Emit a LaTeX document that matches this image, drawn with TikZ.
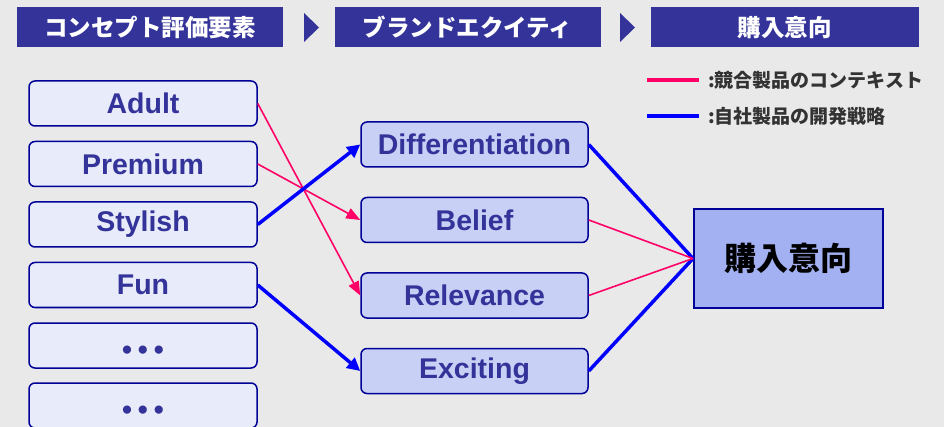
\documentclass[tikz,border=0pt]{standalone}
\usepackage{fontspec}
\setmainfont{Liberation Sans}
\newfontfamily\jp{Noto Sans CJK JP}
\usetikzlibrary{arrows.meta}
\definecolor{bg}{HTML}{E9E9E9}
\definecolor{hdr}{HTML}{333399}
\definecolor{bord}{HTML}{000099}
\definecolor{lfill}{HTML}{E8ECFA}
\definecolor{mfill}{HTML}{C8D0F5}
\definecolor{rfill}{HTML}{A3B0F2}
\definecolor{pinkc}{HTML}{FF0066}
\definecolor{bluec}{HTML}{0000FF}
\definecolor{txtc}{HTML}{333399}
\definecolor{legc}{HTML}{333333}
\begin{document}
\begin{tikzpicture}[x=1pt,y=-1pt,
 hbox/.style={fill=hdr, minimum width=266pt, minimum height=40pt, inner sep=0pt, text=white, font=\jp\bfseries\fontsize{23.5}{25}\selectfont},
 htri/.style={fill=hdr},
 lbox/.style={draw=bord, line width=1.5pt, fill=lfill, rounded corners=6pt, minimum width=228pt, minimum height=45pt, inner sep=0pt, text=txtc, font=\bfseries\fontsize{28.5}{30}\selectfont},
 dotbox/.style={lbox, text height=27pt, text depth=0pt},
 mbox/.style={lbox, fill=mfill, minimum width=227pt},
 rbox/.style={draw=bord, line width=2pt, fill=rfill, minimum width=189pt, minimum height=99pt, inner sep=0pt, font=\jp\bfseries\fontsize{32}{34}\selectfont},
 legtext/.style={anchor=west, inner sep=0pt, text=legc, font=\jp\bfseries\fontsize{19}{21}\selectfont},
 pk/.style={draw=pinkc, line width=1.6pt},
 bl/.style={draw=bluec, line width=3.5pt},
 pkarr/.style={pk, -{Triangle[length=14pt,width=11pt]}},
 blarr/.style={bl, -{Triangle[length=13pt,width=13pt]}}
]
\fill[bg] (0,0) rectangle (944,427);
\useasboundingbox (0,0) rectangle (944,427);

% header
\node[hbox] (h1) at (150,27.5) {コンセプト評価要素};
\node[hbox] (h2) at (467.5,27.5) {ブランドエクイティ};
\node[hbox, minimum width=268pt] (h3) at (784.5,27.5) {購入意向};
\fill[htri] (304,13) -- (319,27.5) -- (304,42) -- cycle;
\fill[htri] (620,13) -- (635,27.5) -- (620,42) -- cycle;

% legend
\coordinate (lp1) at (647,80);
\coordinate (lp2) at (699,80);
\coordinate (lb1) at (647,116);
\coordinate (lb2) at (699,116);
\draw[pk, line width=3.5pt] (lp1) -- (lp2);
\draw[bl] (lb1) -- (lb2);
\node[legtext] (lt1) at (708,80) {:競合製品のコンテキスト};
\node[legtext] (lt2) at (708,116) {:自社製品の開発戦略};

% left boxes
\node[lbox] (adult) at (143,103.5) {Adult};
\node[lbox] (premium) at (143,164) {Premium};
\node[lbox] (stylish) at (143,224.5) {Stylish};
\node[lbox] (fun) at (143,285) {Fun};
\node[dotbox] (d1) at (143,345.5) {•\kern6pt•\kern6pt•};
\node[dotbox] (d2) at (143,405.5) {•\kern6pt•\kern6pt•};

% middle boxes
\node[mbox] (diff) at (474.5,144.5) {Differentiation};
\node[mbox] (belief) at (474.5,220) {Belief};
\node[mbox] (rel) at (474.5,295.5) {Relevance};
\node[mbox] (exc) at (474.5,371) {Exciting};

% right box
\node[rbox] (buy) at (788.5,258.5) {購入意向};

% connectors
\draw[pkarr] (adult.east) -- (rel.west);
\draw[pkarr] (premium.east) -- (belief.west);
\draw[blarr] (stylish.east) -- (diff.west);
\draw[blarr] (fun.east) -- (exc.west);

\draw[bl] (diff.east) -- (buy.west);
\draw[bl] (exc.east) -- (buy.west);
\draw[pk] (belief.east) -- (buy.west);
\draw[pk] (rel.east) -- (buy.west);
\end{tikzpicture}
\end{document}
